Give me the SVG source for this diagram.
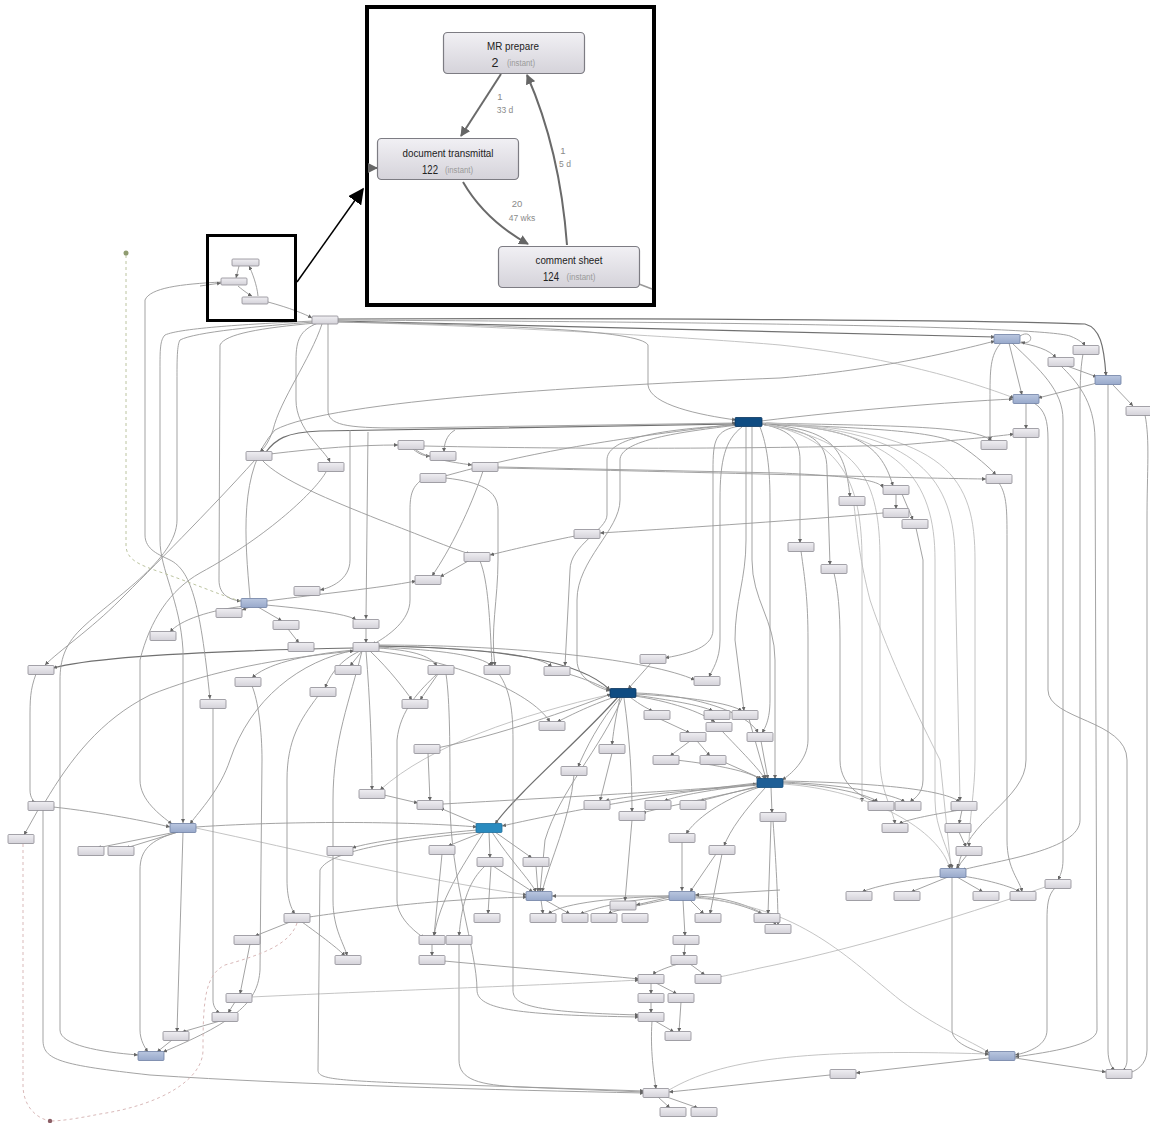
<svg xmlns="http://www.w3.org/2000/svg" width="1150" height="1123" viewBox="0 0 1150 1123">
<defs>
<linearGradient id="gg" x1="0" y1="0" x2="0" y2="1"><stop offset="0" stop-color="#efeef2"/><stop offset="1" stop-color="#d4d2d9"/></linearGradient>
<linearGradient id="gb" x1="0" y1="0" x2="0" y2="1"><stop offset="0" stop-color="#b9c6df"/><stop offset="1" stop-color="#98a9cb"/></linearGradient>
<linearGradient id="gi" x1="0" y1="0" x2="0" y2="1"><stop offset="0" stop-color="#f1f0f4"/><stop offset="1" stop-color="#d5d3da"/></linearGradient>
<marker id="a" viewBox="0 0 6 6" refX="6" refY="3" markerWidth="4" markerHeight="4" markerUnits="userSpaceOnUse" orient="auto"><path d="M0,0L6,3L0,6z" fill="#666"/></marker>
<marker id="ai" viewBox="0 0 10 10" refX="9" refY="5" markerWidth="10" markerHeight="10" markerUnits="userSpaceOnUse" orient="auto"><path d="M0,0L10,5L0,10z" fill="#666"/></marker>
<marker id="ab" viewBox="0 0 10 10" refX="9" refY="5" markerWidth="16" markerHeight="16" markerUnits="userSpaceOnUse" orient="auto"><path d="M0,0L10,5L0,10z" fill="#000"/></marker>
</defs>
<style>
.c path{fill:none;stroke:#999;stroke-width:0.9;marker-end:url(#a)}
.c path.d{stroke:#707070;stroke-width:1.2}
.c path.l{stroke:#bdbdbd}
.ng{fill:url(#gg);stroke:#8d8c93;stroke-width:0.8}
.nb{fill:url(#gb);stroke:#6f80a3;stroke-width:0.8}
.nd{fill:#0f4c82;stroke:#0a355e;stroke-width:0.8}
.nd2{fill:#1f5f96;stroke:#134a78;stroke-width:0.8}
.nm{fill:#2a8bbf;stroke:#1f6e9c;stroke-width:0.8}
.ni{fill:url(#gi);stroke:#7d7c83;stroke-width:1.2}
.t{font-family:"Liberation Sans",Arial,sans-serif;fill:#222;text-anchor:middle}
.el{font-family:"Liberation Sans",Arial,sans-serif;fill:#8a8a8a;font-size:8.5px;text-anchor:middle}
.ie path{fill:none;stroke:#6a6a6a;stroke-width:2;marker-end:url(#ai)}
</style>
<rect width="1150" height="1123" fill="#fff"/>

<g id="connectors" class="c">
<path class="d" d="M338 321 L995 337"/>
<path class="d" d="M338 319 C600 318 1000 320 1085 324 C1100 328 1104 345 1106 376"/>
<path d="M338 320 C700 322 1040 326 1070 336 C1080 340 1084 344 1085 346"/>
<path class="l" d="M338 322 C500 326 700 338 780 345 C900 358 980 385 1014 398"/>
<path d="M250 598 C245 540 238 470 275 430 C330 400 600 385 780 378 C880 370 960 350 995 341"/>
<path d="M1009 343 L1022 395"/>
<path d="M1015 342 C1035 345 1050 350 1056 358"/>
<path d="M1067 366 L1097 377"/>
<path d="M1097 383 L1038 398"/>
<path d="M1113 385 L1133 406"/>
<path d="M1020 336 C1032 328 1036 346 1021 342"/>
<path d="M1026 403 L1026 429"/>
<path d="M761 421 C850 410 950 402 1013 399"/>
<path d="M761 423 C900 426 975 426 992 441"/>
<path d="M761 424 C880 428 940 432 960 445 C975 455 990 468 996 475"/>
<path d="M338 322 C500 325 640 330 648 345 L648 385 C650 405 700 415 736 420"/>
<path d="M1001 343 C990 355 990 370 990 400 L990 441"/>
<path d="M1012 343 C1040 370 1063 390 1063 420 L1063 860 C1063 870 1060 876 1058 880"/>
<path d="M1083 354 C1080 370 1080 390 1080 410 L1080 820 C1080 850 1000 860 962 870"/>
<path d="M1108 384 L1108 1050 C1108 1062 1112 1068 1115 1070"/>
<path d="M1145 415 C1150 440 1147 470 1147 520 L1147 1050 C1147 1065 1135 1072 1128 1073"/>
<path d="M1034 403 C1045 410 1048 420 1048 440 L1048 690 C1048 720 1127 720 1127 760 L1127 1060 C1127 1066 1124 1070 1122 1071"/>
<path d="M1026 437 L1026 760 C1026 800 965 820 958 868"/>
<path d="M999 483 C1007 495 1007 510 1007 540 L1007 840 C1007 870 1020 880 1022 892"/>
<path d="M740 426 C715 430 713 440 713 470 L713 630 C713 650 680 655 665 658"/>
<path d="M752 427 L752 560 C752 600 775 620 775 660 L775 779"/>
<path d="M746 427 L746 540 C746 580 735 600 735 640 L744 711"/>
<path d="M760 427 C765 440 770 460 770 500 L770 700 C770 720 765 728 762 733"/>
<path d="M762 424 C790 430 800 440 800 460 L800 543"/>
<path d="M764 425 C810 430 827 440 827 470 L830 565"/>
<path d="M765 424 C830 430 845 445 850 497"/>
<path d="M765 424 C850 428 880 440 893 486"/>
<path class="l" d="M766 425 C860 440 880 480 880 560 L880 760 C880 790 893 810 895 824"/>
<path class="l" d="M766 424 C840 440 862 480 862 560 L862 802"/>
<path class="l" d="M766 423 C900 430 935 480 935 560 L935 800 C935 830 950 850 952 869"/>
<path class="l" d="M766 423 C920 430 955 480 955 560 L960 801"/>
<path class="l" d="M767 423 C950 430 975 480 975 560 L975 760 C975 790 969 820 969 847"/>
<path d="M328 324 L328 410 C328 425 345 428 400 428 L736 423"/>
<path d="M318 323 C300 330 296 340 296 360 L296 400 C296 430 325 450 330 462"/>
<path d="M322 324 C310 360 280 400 273 430 C268 445 262 450 260 452"/>
<path d="M262 460 C280 480 330 500 380 520 C420 535 450 548 470 554"/>
<path class="d" d="M266 452 C275 440 285 432 320 431 L736 424"/>
<path d="M267 601 C320 594 380 588 416 581"/>
<path d="M250 607 L242 610"/>
<path d="M258 607 L282 621"/>
<path d="M266 605 C320 610 350 615 356 620"/>
<path d="M288 629 L299 643"/>
<path d="M350 430 L350 560 C350 580 330 588 320 590"/>
<path d="M245 606 C210 610 180 620 170 632"/>
<path d="M366 628 L366 643"/>
<path d="M270 454 C320 448 360 445 398 445"/>
<path d="M498 467 L780 473 C850 476 880 480 883 488"/>
<path d="M413 449 C420 455 425 456 430 456"/>
<path d="M415 449 C425 458 450 462 472 465"/>
<path d="M445 476 C520 455 600 440 737 424"/>
<path d="M455 430 C446 435 444 445 444 452"/>
<path d="M446 478 C480 482 498 490 498 510 L498 560 C498 600 490 630 495 666"/>
<path d="M483 471 C470 510 450 550 432 576"/>
<path d="M470 560 L440 577"/>
<path d="M883 513 C800 520 700 527 600 533"/>
<path d="M575 536 C540 543 510 550 490 555"/>
<path class="d" d="M354 648 C250 650 100 655 53 668"/>
<path d="M378 648 C410 650 430 655 437 666"/>
<path d="M378 647 C440 650 480 655 492 666"/>
<path d="M378 646 C480 648 540 655 552 667"/>
<path class="d" d="M378 646 C500 648 580 660 610 690"/>
<path d="M378 645 C520 645 650 660 695 680"/>
<path d="M354 650 C300 655 265 665 252 678"/>
<path d="M360 651 C340 660 330 675 325 688"/>
<path d="M370 651 C390 670 405 690 412 700"/>
<path d="M376 651 C450 660 530 690 550 722"/>
<path d="M356 650 C300 660 250 700 230 760 C220 790 200 810 190 824"/>
<path d="M651 663 L628 689"/>
<path d="M630 697 C640 705 650 710 653 711"/>
<path d="M615 697 C590 705 565 718 557 722"/>
<path d="M620 698 C615 720 613 735 612 745"/>
<path d="M634 695 C670 700 700 705 713 711"/>
<path d="M635 694 C690 697 730 703 742 711"/>
<path d="M635 696 C680 703 705 715 715 722"/>
<path d="M636 693 C700 695 750 715 758 733"/>
<path d="M660 719 L690 733"/>
<path d="M690 741 L670 756"/>
<path d="M697 741 L710 756"/>
<path d="M722 731 C740 750 760 770 765 779"/>
<path d="M749 719 L766 779"/>
<path d="M761 741 L768 779"/>
<path class="d" d="M618 697 C580 740 520 790 495 824"/>
<path d="M620 698 C600 720 585 750 578 767"/>
<path d="M622 698 C600 750 560 790 545 840 L540 892"/>
<path class="l" d="M612 694 C520 715 430 745 380 790"/>
<path d="M437 748 C500 735 570 710 611 694"/>
<path d="M624 698 C630 740 632 780 632 812"/>
<path d="M783 783 C830 785 870 795 878 802"/>
<path d="M783 782 C850 785 895 795 905 802"/>
<path d="M783 781 C880 783 945 790 960 802"/>
<path d="M771 787 L772 813"/>
<path d="M760 787 C720 800 695 820 686 834"/>
<path d="M757 783 C650 795 550 815 502 826"/>
<path class="l" d="M783 784 C870 790 940 830 950 869"/>
<path d="M765 788 C745 810 730 830 724 846"/>
<path d="M683 900 L685 936"/>
<path d="M685 944 L684 956"/>
<path d="M670 897 L636 905"/>
<path d="M690 900 L704 914"/>
<path d="M695 897 C730 900 755 910 762 914"/>
<path d="M696 896 C740 898 770 915 776 925"/>
<path d="M670 899 C640 905 615 910 608 914"/>
<path d="M669 897 C620 900 590 910 580 914"/>
<path d="M669 896 C600 898 560 905 548 914"/>
<path class="l" d="M695 898 C800 905 850 960 900 1000 C940 1030 980 1045 989 1053"/>
<path d="M669 896 L552 896"/>
<path d="M780 890 L695 895"/>
<path d="M678 964 C665 968 655 972 653 975"/>
<path d="M690 964 L705 975"/>
<path d="M651 983 L651 994"/>
<path d="M651 1002 L651 1013"/>
<path d="M656 983 L677 994"/>
<path d="M681 1002 L679 1032"/>
<path d="M655 1021 L674 1032"/>
<path d="M652 1021 C650 1050 654 1075 656 1089"/>
<path d="M658 1097 L670 1108"/>
<path d="M664 1096 L698 1108"/>
<path d="M492 832 C510 860 530 880 536 892"/>
<path d="M536 866 L538 892"/>
<path d="M489 832 L490 858"/>
<path d="M495 832 L532 858"/>
<path d="M483 832 L448 846"/>
<path d="M484 832 C460 870 440 900 434 936"/>
<path d="M493 866 L533 892"/>
<path class="l" d="M196 828 C300 850 420 880 527 895"/>
<path d="M432 944 L432 956"/>
<path d="M459 944 L459 1060 C459 1080 480 1085 520 1087 L644 1092"/>
<path d="M444 961 C520 968 600 975 639 979"/>
<path d="M742 427 C725 440 720 460 720 500 L720 640 C720 660 712 670 709 677"/>
<path d="M309 917 C360 910 420 900 527 897"/>
<path d="M318 696 C300 720 287 740 287 780 L287 880 C287 900 292 910 295 914"/>
<path d="M290 922 L255 936"/>
<path d="M302 922 C320 935 340 950 345 956"/>
<path d="M362 651 C350 700 333 740 333 800 L333 900 C333 930 345 945 347 956"/>
<path d="M235 1002 L228 1013"/>
<path d="M220 1021 L182 1032"/>
<path d="M172 1040 L157 1052"/>
<path class="l" d="M251 997 C400 990 550 985 639 980"/>
<path d="M213 708 L213 1000 C213 1008 218 1012 220 1013"/>
<path d="M178 832 C150 840 140 850 140 870 L140 1030 C140 1040 145 1048 148 1052"/>
<path d="M183 832 L177 1032"/>
<path d="M252 686 C258 700 262 730 262 760 L260 970 C258 1000 240 1020 163 1052"/>
<path d="M43 810 L43 1040 C43 1060 60 1065 150 1075 C300 1085 500 1090 644 1093"/>
<path d="M36 674 C30 690 30 700 30 720 L30 790 C30 798 34 802 36 802"/>
<path d="M38 810 L24 835"/>
<path d="M53 807 C100 812 150 822 170 827"/>
<path d="M45 802 C70 760 100 720 150 695 C200 675 260 660 354 651"/>
<path d="M176 832 L97 848"/>
<path d="M178 832 L126 848"/>
<path d="M438 674 L420 700"/>
<path d="M446 674 C450 700 450 750 450 800 C450 880 477 950 477 990 C477 1010 520 1015 639 1017"/>
<path d="M437 674 C420 690 400 710 397 740 L397 900 C397 920 420 935 424 938"/>
<path d="M565 673 C590 680 605 688 611 691"/>
<path d="M443 804 C600 795 700 790 757 784"/>
<path d="M682 842 L682 891"/>
<path d="M196 827 C300 820 420 822 477 827"/>
<path d="M962 810 L959 824"/>
<path d="M959 832 L966 847"/>
<path d="M967 855 L956 869"/>
<path d="M960 810 C930 815 905 820 899 824"/>
<path d="M945 876 C900 880 870 888 862 892"/>
<path d="M948 877 L911 892"/>
<path d="M957 877 L983 892"/>
<path d="M962 876 C990 880 1015 888 1020 892"/>
<path d="M952 877 L952 1030 C952 1045 980 1052 989 1055"/>
<path d="M1055 888 C1048 895 1047 905 1047 920 L1047 1030 C1047 1045 1030 1052 1015 1055"/>
<path d="M1061 366 C1075 380 1095 400 1095 440 L1097 1030 C1097 1045 1050 1052 1015 1057"/>
<path d="M989 1058 L856 1073"/>
<path d="M1015 1058 L1106 1072"/>
<path d="M830 1075 C780 1080 720 1087 669 1092"/>
<path class="l" d="M669 1090 C720 1060 800 1048 989 1054"/>
<path class="l" d="M1048 886 C950 920 850 950 760 968 C730 975 715 978 712 978"/>
<path d="M314 321 C250 324 180 328 165 335 C160 340 160 350 160 370 L160 540 C160 570 180 600 183 650 L183 823"/>
<path d="M314 322 C260 326 195 332 180 340 C177 345 177 360 177 380 L177 520 C177 560 110 600 80 630 C65 645 60 660 60 680 L60 1030 C60 1045 100 1052 138 1055"/>
<path d="M222 282 C180 284 150 288 145 300 L145 535 C145 550 160 555 170 560 C190 570 200 600 210 699"/>
<path d="M316 323 C260 328 225 334 220 345 L219 580 C219 595 230 600 241 601"/>
<path d="M255 460 C210 510 150 570 120 600 C90 630 60 650 45 665"/>
<path d="M326 472 C316 490 270 535 200 573 C170 590 150 620 140 660 L140 780 C140 800 160 815 172 824"/>
<path d="M368 432 L366 619"/>
<path d="M737 425 C650 430 607 440 607 460 L607 515 C607 530 570 545 570 570 L565 666"/>
<path d="M738 425 C680 432 620 440 620 460 L620 500 C620 530 577 560 577 600 L577 660 C577 680 600 688 610 691"/>
<path d="M425 478 C412 485 410 495 410 510 L410 600 C410 620 390 635 372 645"/>
<path d="M480 561 C488 580 490 620 492 666"/>
<path d="M424 446 C600 450 800 448 900 445 C960 440 1000 436 1014 434"/>
<path d="M498 468 C700 472 900 478 986 479"/>
<path d="M801 551 C805 580 808 600 808 640 L808 740 C808 760 790 775 782 780"/>
<path d="M834 573 C838 590 840 610 840 640 L840 760 C840 790 870 800 876 802"/>
<path class="l" d="M854 505 C858 540 860 560 870 600 C890 660 920 720 940 760 L951 868"/>
<path d="M896 494 L896 509"/>
<path d="M902 494 L913 520"/>
<path d="M916 528 L923 560 L923 780 C923 795 912 800 910 802"/>
<path d="M362 651 L350 666"/>
<path d="M758 785 C700 790 630 795 605 801"/>
<path d="M758 784 C710 790 680 795 664 801"/>
<path d="M759 786 L700 801"/>
<path d="M758 787 C700 800 660 808 642 813"/>
<path d="M477 830 C420 835 370 842 352 848"/>
<path d="M480 825 L440 808"/>
<path d="M722 854 L710 914"/>
<path d="M716 854 L690 892"/>
<path d="M632 820 L625 901"/>
<path d="M612 753 L600 801"/>
<path d="M574 775 C570 820 550 860 542 892"/>
<path d="M676 760 C720 765 750 772 760 779"/>
<path d="M724 762 L762 779"/>
<path d="M384 795 L418 803"/>
<path d="M366 651 C370 700 372 750 372 790"/>
<path d="M428 753 L430 801"/>
<path d="M442 854 L434 936"/>
<path d="M491 866 L488 914"/>
<path d="M541 900 L543 914"/>
<path d="M545 900 L570 914"/>
<path d="M773 821 C776 860 778 900 778 925"/>
<path d="M771 821 L768 914"/>
<path d="M250 944 L240 994"/>
<path d="M485 866 C470 880 462 900 459 936"/>
<path d="M480 832 C400 840 330 850 320 870 L318 1070 C318 1078 330 1080 400 1083 L644 1091"/>
<path d="M499 674 C510 690 513 710 513 740 L513 990 C513 1005 530 1012 639 1015"/>
<path d="M268 302 C290 308 305 314 312 318"/>
<path d="M239 266 L236 278"/>
<path d="M238 286 C245 292 250 295 252 296"/>
<path d="M258 296 C257 285 252 272 249 266"/>
<path d="M200 286 L221 283"/>
</g>

<g id="dashed" fill="none" stroke-dasharray="3 3">
<path d="M126 255 L126 545 C126 560 140 565 160 572 C190 582 220 595 240 601" stroke="#bcc4a0" stroke-width="1"/>
<path d="M23 844 L23 1085 C23 1105 35 1118 50 1121" stroke="#d9b9b9" stroke-width="1"/>
<path d="M297 923 C290 945 260 955 225 965 C205 975 203 1000 203 1050 C203 1080 160 1105 100 1114 C75 1119 60 1121 50 1121" stroke="#d9b9b9" stroke-width="1"/>
</g>
<g id="start"><circle cx="126" cy="253" r="2.5" fill="#8f9c70"/></g>
<g id="end"><circle cx="50" cy="1121" r="2.2" fill="#8c5f66"/></g>

<g id="nodes">
<g id="s-mr"><rect class="ng" x="232" y="259" width="27" height="7" rx="1"/></g>
<g id="s-dt"><rect class="ng" x="221" y="278" width="26" height="7" rx="1"/></g>
<g id="s-cs"><rect class="ng" x="242" y="297" width="26" height="7" rx="1"/></g>
<g id="n1"><rect class="ng" x="312" y="316" width="26" height="8" rx="1"/></g>
<g id="n2"><rect class="nb" x="994" y="334.5" width="26" height="9" rx="1"/></g>
<g id="n3"><rect class="ng" x="1073" y="345.5" width="26" height="9" rx="1"/></g>
<g id="n4"><rect class="ng" x="1048" y="357.5" width="26" height="9" rx="1"/></g>
<g id="n5"><rect class="nb" x="1095" y="375.5" width="26" height="9" rx="1"/></g>
<g id="n6"><rect class="nb" x="1013" y="394.5" width="26" height="9" rx="1"/></g>
<g id="n7"><rect class="ng" x="1126" y="406.5" width="26" height="9" rx="1"/></g>
<g id="n8"><rect class="nd" x="735" y="417.5" width="27" height="9" rx="1"/></g>
<g id="n9"><rect class="ng" x="1013" y="428.5" width="26" height="9" rx="1"/></g>
<g id="n10"><rect class="ng" x="398" y="440.5" width="26" height="9" rx="1"/></g>
<g id="n11"><rect class="ng" x="981" y="440.5" width="26" height="9" rx="1"/></g>
<g id="n12"><rect class="ng" x="430" y="451.5" width="26" height="9" rx="1"/></g>
<g id="n13"><rect class="ng" x="246" y="451.5" width="26" height="9" rx="1"/></g>
<g id="n14"><rect class="ng" x="472" y="462.5" width="26" height="9" rx="1"/></g>
<g id="n15"><rect class="ng" x="318" y="462.5" width="26" height="9" rx="1"/></g>
<g id="n16"><rect class="ng" x="420" y="473.5" width="26" height="9" rx="1"/></g>
<g id="n17"><rect class="ng" x="986" y="474.5" width="26" height="9" rx="1"/></g>
<g id="n18"><rect class="ng" x="883" y="485.5" width="26" height="9" rx="1"/></g>
<g id="n19"><rect class="ng" x="839" y="496.5" width="26" height="9" rx="1"/></g>
<g id="n20"><rect class="ng" x="883" y="508.5" width="26" height="9" rx="1"/></g>
<g id="n21"><rect class="ng" x="902" y="519.5" width="26" height="9" rx="1"/></g>
<g id="n22"><rect class="ng" x="574" y="529.5" width="26" height="9" rx="1"/></g>
<g id="n23"><rect class="ng" x="788" y="542.5" width="26" height="9" rx="1"/></g>
<g id="n24"><rect class="ng" x="464" y="552.5" width="26" height="9" rx="1"/></g>
<g id="n25"><rect class="ng" x="821" y="564.5" width="26" height="9" rx="1"/></g>
<g id="n26"><rect class="ng" x="415" y="575.5" width="26" height="9" rx="1"/></g>
<g id="n27"><rect class="ng" x="294" y="586.5" width="26" height="9" rx="1"/></g>
<g id="n28"><rect class="nb" x="241" y="598.5" width="26" height="9" rx="1"/></g>
<g id="n29"><rect class="ng" x="216" y="608.5" width="26" height="9" rx="1"/></g>
<g id="n30"><rect class="ng" x="353" y="619.5" width="26" height="9" rx="1"/></g>
<g id="n31"><rect class="ng" x="273" y="620.5" width="26" height="9" rx="1"/></g>
<g id="n32"><rect class="ng" x="150" y="631.5" width="26" height="9" rx="1"/></g>
<g id="n33"><rect class="ng" x="288" y="642.5" width="26" height="9" rx="1"/></g>
<g id="n34"><rect class="ng" x="353" y="642.5" width="26" height="9" rx="1"/></g>
<g id="n35"><rect class="ng" x="640" y="654.5" width="26" height="9" rx="1"/></g>
<g id="n36"><rect class="ng" x="28" y="665.5" width="26" height="9" rx="1"/></g>
<g id="n37"><rect class="ng" x="335" y="665.5" width="26" height="9" rx="1"/></g>
<g id="n38"><rect class="ng" x="428" y="665.5" width="26" height="9" rx="1"/></g>
<g id="n39"><rect class="ng" x="484" y="665.5" width="26" height="9" rx="1"/></g>
<g id="n40"><rect class="ng" x="544" y="666.5" width="26" height="9" rx="1"/></g>
<g id="n41"><rect class="ng" x="694" y="676.5" width="26" height="9" rx="1"/></g>
<g id="n42"><rect class="ng" x="235" y="677.5" width="26" height="9" rx="1"/></g>
<g id="n43"><rect class="ng" x="310" y="687.5" width="26" height="9" rx="1"/></g>
<g id="n44"><rect class="nd" x="610" y="688.5" width="26" height="9" rx="1"/></g>
<g id="n45"><rect class="ng" x="200" y="699.5" width="26" height="9" rx="1"/></g>
<g id="n46"><rect class="ng" x="402" y="699.5" width="26" height="9" rx="1"/></g>
<g id="n47"><rect class="ng" x="644" y="710.5" width="26" height="9" rx="1"/></g>
<g id="n48"><rect class="ng" x="704" y="710.5" width="26" height="9" rx="1"/></g>
<g id="n49"><rect class="ng" x="732" y="710.5" width="26" height="9" rx="1"/></g>
<g id="n50"><rect class="ng" x="539" y="721.5" width="26" height="9" rx="1"/></g>
<g id="n51"><rect class="ng" x="706" y="722.5" width="26" height="9" rx="1"/></g>
<g id="n52"><rect class="ng" x="747" y="732.5" width="26" height="9" rx="1"/></g>
<g id="n53"><rect class="ng" x="680" y="732.5" width="26" height="9" rx="1"/></g>
<g id="n54"><rect class="ng" x="414" y="744.5" width="26" height="9" rx="1"/></g>
<g id="n55"><rect class="ng" x="599" y="744.5" width="26" height="9" rx="1"/></g>
<g id="n56"><rect class="ng" x="653" y="755.5" width="26" height="9" rx="1"/></g>
<g id="n57"><rect class="ng" x="700" y="755.5" width="26" height="9" rx="1"/></g>
<g id="n58"><rect class="ng" x="561" y="766.5" width="26" height="9" rx="1"/></g>
<g id="n59"><rect class="nd2" x="757" y="778.5" width="26" height="9" rx="1"/></g>
<g id="n60"><rect class="ng" x="359" y="789.5" width="26" height="9" rx="1"/></g>
<g id="n61"><rect class="ng" x="28" y="801.5" width="26" height="9" rx="1"/></g>
<g id="n62"><rect class="ng" x="417" y="800.5" width="26" height="9" rx="1"/></g>
<g id="n63"><rect class="ng" x="584" y="800.5" width="26" height="9" rx="1"/></g>
<g id="n64"><rect class="ng" x="645" y="800.5" width="26" height="9" rx="1"/></g>
<g id="n65"><rect class="ng" x="680" y="800.5" width="26" height="9" rx="1"/></g>
<g id="n66"><rect class="ng" x="868" y="801.5" width="26" height="9" rx="1"/></g>
<g id="n67"><rect class="ng" x="895" y="801.5" width="26" height="9" rx="1"/></g>
<g id="n68"><rect class="ng" x="951" y="801.5" width="26" height="9" rx="1"/></g>
<g id="n69"><rect class="ng" x="619" y="811.5" width="26" height="9" rx="1"/></g>
<g id="n70"><rect class="ng" x="760" y="812.5" width="26" height="9" rx="1"/></g>
<g id="n71"><rect class="nb" x="170" y="823.5" width="26" height="9" rx="1"/></g>
<g id="n72"><rect class="nm" x="476" y="823.5" width="26" height="9" rx="1"/></g>
<g id="n73"><rect class="ng" x="882" y="823.5" width="26" height="9" rx="1"/></g>
<g id="n74"><rect class="ng" x="945" y="823.5" width="26" height="9" rx="1"/></g>
<g id="n75"><rect class="ng" x="8" y="834.5" width="26" height="9" rx="1"/></g>
<g id="n76"><rect class="ng" x="669" y="833.5" width="26" height="9" rx="1"/></g>
<g id="n77"><rect class="ng" x="78" y="846.5" width="26" height="9" rx="1"/></g>
<g id="n78"><rect class="ng" x="108" y="846.5" width="26" height="9" rx="1"/></g>
<g id="n79"><rect class="ng" x="327" y="846.5" width="26" height="9" rx="1"/></g>
<g id="n80"><rect class="ng" x="429" y="845.5" width="26" height="9" rx="1"/></g>
<g id="n81"><rect class="ng" x="709" y="845.5" width="26" height="9" rx="1"/></g>
<g id="n82"><rect class="ng" x="956" y="846.5" width="26" height="9" rx="1"/></g>
<g id="n83"><rect class="ng" x="477" y="857.5" width="26" height="9" rx="1"/></g>
<g id="n84"><rect class="ng" x="523" y="857.5" width="26" height="9" rx="1"/></g>
<g id="n85"><rect class="nb" x="940" y="868.5" width="26" height="9" rx="1"/></g>
<g id="n86"><rect class="ng" x="1045" y="879.5" width="26" height="9" rx="1"/></g>
<g id="n87"><rect class="nb" x="526" y="891.5" width="26" height="9" rx="1"/></g>
<g id="n88"><rect class="nb" x="669" y="891.5" width="26" height="9" rx="1"/></g>
<g id="n89"><rect class="ng" x="846" y="891.5" width="26" height="9" rx="1"/></g>
<g id="n90"><rect class="ng" x="894" y="891.5" width="26" height="9" rx="1"/></g>
<g id="n91"><rect class="ng" x="973" y="891.5" width="26" height="9" rx="1"/></g>
<g id="n92"><rect class="ng" x="1010" y="891.5" width="26" height="9" rx="1"/></g>
<g id="n93"><rect class="ng" x="610" y="901" width="26" height="9" rx="1"/></g>
<g id="n94"><rect class="ng" x="284" y="913.5" width="26" height="9" rx="1"/></g>
<g id="n95"><rect class="ng" x="474" y="913.5" width="26" height="9" rx="1"/></g>
<g id="n96"><rect class="ng" x="530" y="913.5" width="26" height="9" rx="1"/></g>
<g id="n97"><rect class="ng" x="562" y="913.5" width="26" height="9" rx="1"/></g>
<g id="n98"><rect class="ng" x="591" y="913.5" width="26" height="9" rx="1"/></g>
<g id="n99"><rect class="ng" x="622" y="913.5" width="26" height="9" rx="1"/></g>
<g id="n100"><rect class="ng" x="695" y="913.5" width="26" height="9" rx="1"/></g>
<g id="n101"><rect class="ng" x="754" y="913.5" width="26" height="9" rx="1"/></g>
<g id="n102"><rect class="ng" x="765" y="924.5" width="26" height="9" rx="1"/></g>
<g id="n103"><rect class="ng" x="234" y="935.5" width="26" height="9" rx="1"/></g>
<g id="n104"><rect class="ng" x="419" y="935.5" width="26" height="9" rx="1"/></g>
<g id="n105"><rect class="ng" x="446" y="935.5" width="26" height="9" rx="1"/></g>
<g id="n106"><rect class="ng" x="673" y="935.5" width="26" height="9" rx="1"/></g>
<g id="n107"><rect class="ng" x="335" y="955.5" width="26" height="9" rx="1"/></g>
<g id="n108"><rect class="ng" x="419" y="955.5" width="26" height="9" rx="1"/></g>
<g id="n109"><rect class="ng" x="671" y="955.5" width="26" height="9" rx="1"/></g>
<g id="n110"><rect class="ng" x="638" y="974.5" width="26" height="9" rx="1"/></g>
<g id="n111"><rect class="ng" x="695" y="974.5" width="26" height="9" rx="1"/></g>
<g id="n112"><rect class="ng" x="638" y="993.5" width="26" height="9" rx="1"/></g>
<g id="n113"><rect class="ng" x="668" y="993.5" width="26" height="9" rx="1"/></g>
<g id="n114"><rect class="ng" x="226" y="993.5" width="26" height="9" rx="1"/></g>
<g id="n115"><rect class="ng" x="212" y="1012.5" width="26" height="9" rx="1"/></g>
<g id="n116"><rect class="ng" x="638" y="1012.5" width="26" height="9" rx="1"/></g>
<g id="n117"><rect class="ng" x="163" y="1031.5" width="26" height="9" rx="1"/></g>
<g id="n118"><rect class="ng" x="665" y="1031.5" width="26" height="9" rx="1"/></g>
<g id="n119"><rect class="nb" x="138" y="1051.5" width="26" height="9" rx="1"/></g>
<g id="n120"><rect class="nb" x="989" y="1051.5" width="26" height="9" rx="1"/></g>
<g id="n121"><rect class="ng" x="830" y="1069.5" width="26" height="9" rx="1"/></g>
<g id="n122"><rect class="ng" x="1106" y="1069.5" width="26" height="9" rx="1"/></g>
<g id="n123"><rect class="ng" x="643" y="1088.5" width="26" height="9" rx="1"/></g>
<g id="n124"><rect class="ng" x="660" y="1107.5" width="26" height="9" rx="1"/></g>
<g id="n125"><rect class="ng" x="691" y="1107.5" width="26" height="9" rx="1"/></g>
</g>

<g id="callout">
<rect x="207.5" y="235.5" width="88" height="85" fill="none" stroke="#000" stroke-width="3"/>
<path d="M297 282 L363 189" stroke="#000" stroke-width="1.5" fill="none" marker-end="url(#ab)"/>
<rect x="367" y="7" width="287" height="298" fill="#fff" stroke="#000" stroke-width="4"/>
</g>

<g id="inset-edges" class="ie">
<path d="M501 74 L461 136"/>
<path d="M463 182 Q485 220 528 244"/>
<path d="M567 245 Q560 150 527 75"/>
<path d="M369 168 L377 168"/>
<path d="M639 284 L652 289" style="marker-end:none;stroke:#999;stroke-width:1.5"/>
</g>
<g id="inset-labels">
<text class="el" x="500" y="100" style="font-size:9.5px">1</text>
<text class="el" x="505" y="113">33 d</text>
<text class="el" x="517" y="207" style="font-size:9.5px">20</text>
<text class="el" x="522" y="221">47 wks</text>
<text class="el" x="563" y="154" style="font-size:9.5px">1</text>
<text class="el" x="565" y="167">5 d</text>
</g>
<g id="inset-mr">
<rect class="ni" x="443.5" y="32.5" width="141" height="41" rx="4"/>
<text class="t" x="513" y="50" font-size="11.5" textLength="52" lengthAdjust="spacingAndGlyphs">MR prepare</text>
<text x="495" y="67" font-family="Liberation Sans, Arial, sans-serif" font-size="12.5" fill="#222" text-anchor="middle">2</text>
<text x="521" y="66" font-family="Liberation Sans, Arial, sans-serif" font-size="8.5" fill="#9a9a9a" text-anchor="middle" textLength="28" lengthAdjust="spacingAndGlyphs">(instant)</text>
</g>
<g id="inset-dt">
<rect class="ni" x="377.5" y="138.5" width="141" height="41" rx="4"/>
<text class="t" x="448" y="157" font-size="11.5" textLength="91" lengthAdjust="spacingAndGlyphs">document transmittal</text>
<text x="430" y="174" font-family="Liberation Sans, Arial, sans-serif" font-size="12.5" fill="#222" text-anchor="middle" textLength="16" lengthAdjust="spacingAndGlyphs">122</text>
<text x="459" y="173" font-family="Liberation Sans, Arial, sans-serif" font-size="8.5" fill="#9a9a9a" text-anchor="middle" textLength="28" lengthAdjust="spacingAndGlyphs">(instant)</text>
</g>
<g id="inset-cs">
<rect class="ni" x="498.5" y="246.5" width="141" height="41" rx="4"/>
<text class="t" x="569" y="264" font-size="11.5" textLength="67" lengthAdjust="spacingAndGlyphs">comment sheet</text>
<text x="551" y="281" font-family="Liberation Sans, Arial, sans-serif" font-size="12.5" fill="#222" text-anchor="middle" textLength="16" lengthAdjust="spacingAndGlyphs">124</text>
<text x="581" y="280" font-family="Liberation Sans, Arial, sans-serif" font-size="8.5" fill="#9a9a9a" text-anchor="middle" textLength="29" lengthAdjust="spacingAndGlyphs">(instant)</text>
</g>
</svg>
